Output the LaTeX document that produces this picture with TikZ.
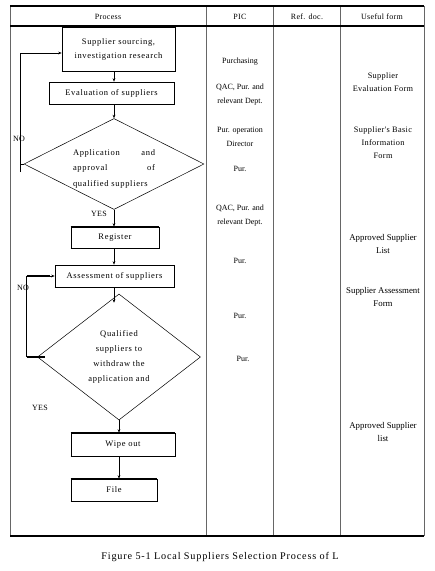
\documentclass[tikz,border=0pt]{standalone}
\usepackage{fontspec}
\setmainfont{Liberation Serif}
\newfontfamily\wideface[LetterSpace=8]{Liberation Serif}
\newfontfamily\midface[LetterSpace=4]{Liberation Serif}
\usetikzlibrary{shapes.geometric,arrows.meta,calc}
\begin{document}
\begin{tikzpicture}[x=1pt,y=-1pt,
  pbox/.style={draw, line width=0.6pt, inner sep=0pt, align=center, font=\wideface\fontsize{8.5}{14}\selectfont},
  dia/.style={draw, diamond, line width=0.5pt, inner sep=0pt, font=\wideface\fontsize{8.5}{15}\selectfont},
  arr/.style={line width=0.6pt, -{Stealth[length=3.5pt,width=2.8pt]}},
  ln/.style={line width=0.6pt},
  pic/.style={align=center, inner sep=0pt, font=\fontsize{8}{14}\selectfont},
  form/.style={align=center, inner sep=0pt, font=\fontsize{8.8}{13}\selectfont},
  lbl/.style={inner sep=0pt, font=\midface\fontsize{8}{10}\selectfont},
  hdr/.style={inner sep=0pt, font=\midface\fontsize{8}{10}\selectfont},
  grid/.style={draw=black!60, line width=0.9pt}
]
\useasboundingbox (0,0) rectangle (435,571);
% table frame
\draw[grid] (10,6) -- (10,536);
\draw[grid] (206,6) -- (206,536);
\draw[grid] (273.5,6) -- (273.5,536);
\draw[grid] (340,6) -- (340,536);
\draw[grid] (424,6) -- (424,536);
\draw[line width=1.5pt] (10,6) -- (424,6);
\draw[line width=1.2pt] (10,26) -- (424,26);
\draw[line width=1.8pt] (10,536) -- (424,536);
% headers
\node[hdr] (hp) at (108,17) {Process};
\node[hdr] (hpic) at (240,17) {PIC};
\node[hdr] (href) at (307,17) {Ref. doc.};
\node[hdr] (huf) at (382,17) {Useful form};
% process boxes
\node[pbox, minimum width=113pt, minimum height=44pt] (b1) at (118.5,49) {Supplier sourcing,\\investigation research};
\draw[line width=1.3pt] (b1.south west) -- (b1.south east);
\node[pbox, minimum width=125pt, minimum height=22pt] (b2) at (111.5,93) {Evaluation of suppliers};
\node[dia, minimum width=180pt, minimum height=91pt, aspect=2] (d1) at (114,164)
  {\parbox{82pt}{\vspace*{9pt}\wideface\fontsize{8.5}{15.5}\selectfont Application\hfill and\\approval\hfill of\\qualified suppliers}};
\node[pbox, minimum width=88pt, minimum height=21pt] (reg) at (115,237.5) {Register};
\draw[line width=1.5pt] (reg.north west) -- (reg.north east);
\draw[line width=1.5pt] (reg.south west) -- (reg.south east);
\node[pbox, minimum width=119pt, minimum height=22pt] (ass) at (114.5,276) {Assessment of suppliers};
\draw[line width=1.3pt] (ass.south west) -- (ass.south east);
\node[dia, minimum width=163pt, minimum height=126pt, aspect=1.3, align=center, font=\wideface\fontsize{8.5}{15}\selectfont] (d2) at (119,357)
  {Qualified\\suppliers to\\withdraw the\\application and};
\node[pbox, minimum width=104pt, minimum height=23pt] (wipe) at (123,444.5) {Wipe out};
\draw[line width=1.3pt] (wipe.north west) -- (wipe.north east);
\draw[line width=1.3pt] (wipe.south west) -- (wipe.south east);
\node[pbox, minimum width=86pt, minimum height=22pt] (file) at (114,490) {File};
\draw[line width=1.3pt] (file.north west) -- (file.north east);
\draw[line width=1.3pt] (file.south west) -- (file.south east);
% arrows
\draw[arr] (b1.south -| d1.north) -- (b2.north -| d1.north);
\draw[arr] (b2.south -| d1.north) -- (d1.north);
\draw[arr] (d1.south) -- (reg.north -| d1.south);
\draw[arr] (reg.south -| d1.south) -- (ass.north -| d1.south);
\draw[arr] (ass.south -| d1.south) -- ($(d2.north)+(-5,9)$);
\draw[arr] (d2.south) -- (wipe.north -| d2.south);
\draw[arr] (wipe.south -| d2.south) -- (file.north -| d2.south);
% feedback loops
\coordinate (f1b) at (20,172);
\coordinate (f1t) at (20,53);
\draw[ln] (d1.west) -- (d1.west -| f1b);
\draw[arr] (f1b) -- (f1t) -- (f1t -| b1.west);
\coordinate (f2) at (26.5,357);
\draw[ln] (d2.west) -- (f2);
\draw[line width=1.4pt] (26.5,357) -- (45,357);
\draw[arr] (f2) |- (ass.west);
\draw[line width=1.4pt] (26.5,276) -- (50,276);
% labels
\node[lbl] (no1) at (19,139) {NO};
\node[lbl] (yes1) at (99,214) {YES};
\node[lbl] (no2) at (23,288) {NO};
\node[lbl] (yes2) at (40,408) {YES};
% PIC column
\node[pic] (p1) at (240,62) {Purchasing};
\node[pic] (p2) at (240,95) {QAC, Pur. and\\relevant Dept.};
\node[pic] (p3) at (240,136.5) {Pur. operation\\Director};
\node[pic] (p4) at (240,169) {Pur.};
\node[pic] (p5) at (240,215.5) {QAC, Pur. and\\relevant Dept.};
\node[pic] (p6) at (240,261) {Pur.};
\node[pic] (p7) at (240,316) {Pur.};
\node[pic] (p8) at (243,359) {Pur.};
% Useful form column
\node[form, font=\midface\fontsize{8.3}{13}\selectfont] (u1) at (383,82.5) {Supplier\\Evaluation Form};
\node[form, font=\midface\fontsize{8.3}{13}\selectfont] (u2) at (383,143) {Supplier's Basic\\Information\\Form};
\node[form] (u3) at (383,243.5) {Approved Supplier\\List};
\node[form] (u4) at (383,297) {Supplier Assessment\\Form};
\node[form] (u5) at (383,431.5) {Approved Supplier\\list};
% caption
\node[inner sep=0pt, font=\wideface\fontsize{10.2}{12}\selectfont] (cap) at (220,557) {Figure 5-1 Local Suppliers Selection Process of L};
\end{tikzpicture}
\end{document}
